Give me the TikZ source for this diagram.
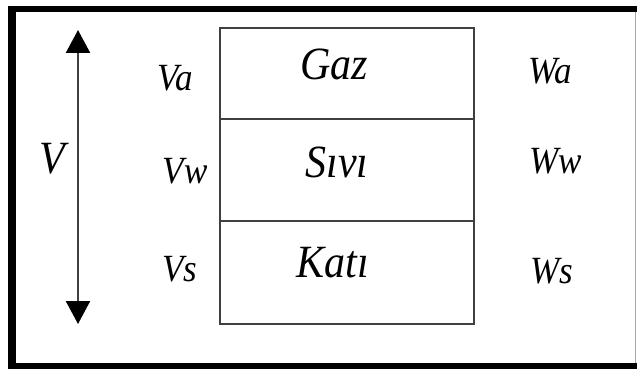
\documentclass[tikz,border=0pt]{standalone}
\usepackage{fontspec}
\setmainfont{Liberation Serif}
\usetikzlibrary{arrows.meta}
\definecolor{boxline}{HTML}{404040}
\newcommand{\tall}[1]{\scalebox{1}[1.1]{#1}}
\tikzset{
  phase/.style={font=\fontsize{42}{42}\selectfont\itshape, inner sep=0pt, anchor=base},
  qty/.style={font=\fontsize{35}{35}\selectfont\itshape, inner sep=0pt, anchor=base},
  total/.style={font=\fontsize{42}{42}\selectfont\itshape, inner sep=0pt, anchor=base},
  cell/.style={draw=boxline, line width=2.8pt},
  dim/.style={draw=boxline, line width=2.4pt,
    {Triangle[width=24pt,length=23pt,fill=black,color=black]}-{Triangle[width=24pt,length=23pt,fill=black,color=black]}}
}
\begin{document}
\begin{tikzpicture}[x=1pt,y=-1pt]
  \useasboundingbox (0,0) rectangle (637,369);
  % frame
  \fill[white] (0,0) rectangle (637,369);
  \fill[black] (8,6) rectangle (637,12);
  \fill[black] (8,6) rectangle (16,369);
  \fill[black] (8,363) rectangle (637,369);
  \draw[gray!70, line width=1pt] (635,12) -- (635,363);
  % phase column
  \draw[cell] (220,28) rectangle (474,324);
  \draw[cell] (220,119) -- (474,119);
  \draw[cell] (220,221) -- (474,221);
  \node[phase] (gaz) at (334,79) {\tall{Gaz}};
  \node[phase] (sivi) at (337,177) {\tall{Sıvı}};
  \node[phase] (kati) at (333,277) {\tall{Katı}};
  % volumes
  \node[qty] (va) at (175,90) {\tall{Va}};
  \node[qty] (vw) at (185,183) {\tall{Vw}};
  \node[qty] (vs) at (180,281) {\tall{Vs}};
  % weights
  \node[qty] (wa) at (550,84) {\tall{Wa}};
  \node[qty] (ww) at (556,173) {\tall{Ww}};
  \node[qty] (ws) at (552,283) {\tall{Ws}};
  % total volume
  \coordinate (vtop) at (78,30);
  \coordinate (vbot) at (78,324);
  \draw[dim] (vtop) -- (vbot);
  \node[total] (v) at (52,173) {\tall{V}};
\end{tikzpicture}
\end{document}
